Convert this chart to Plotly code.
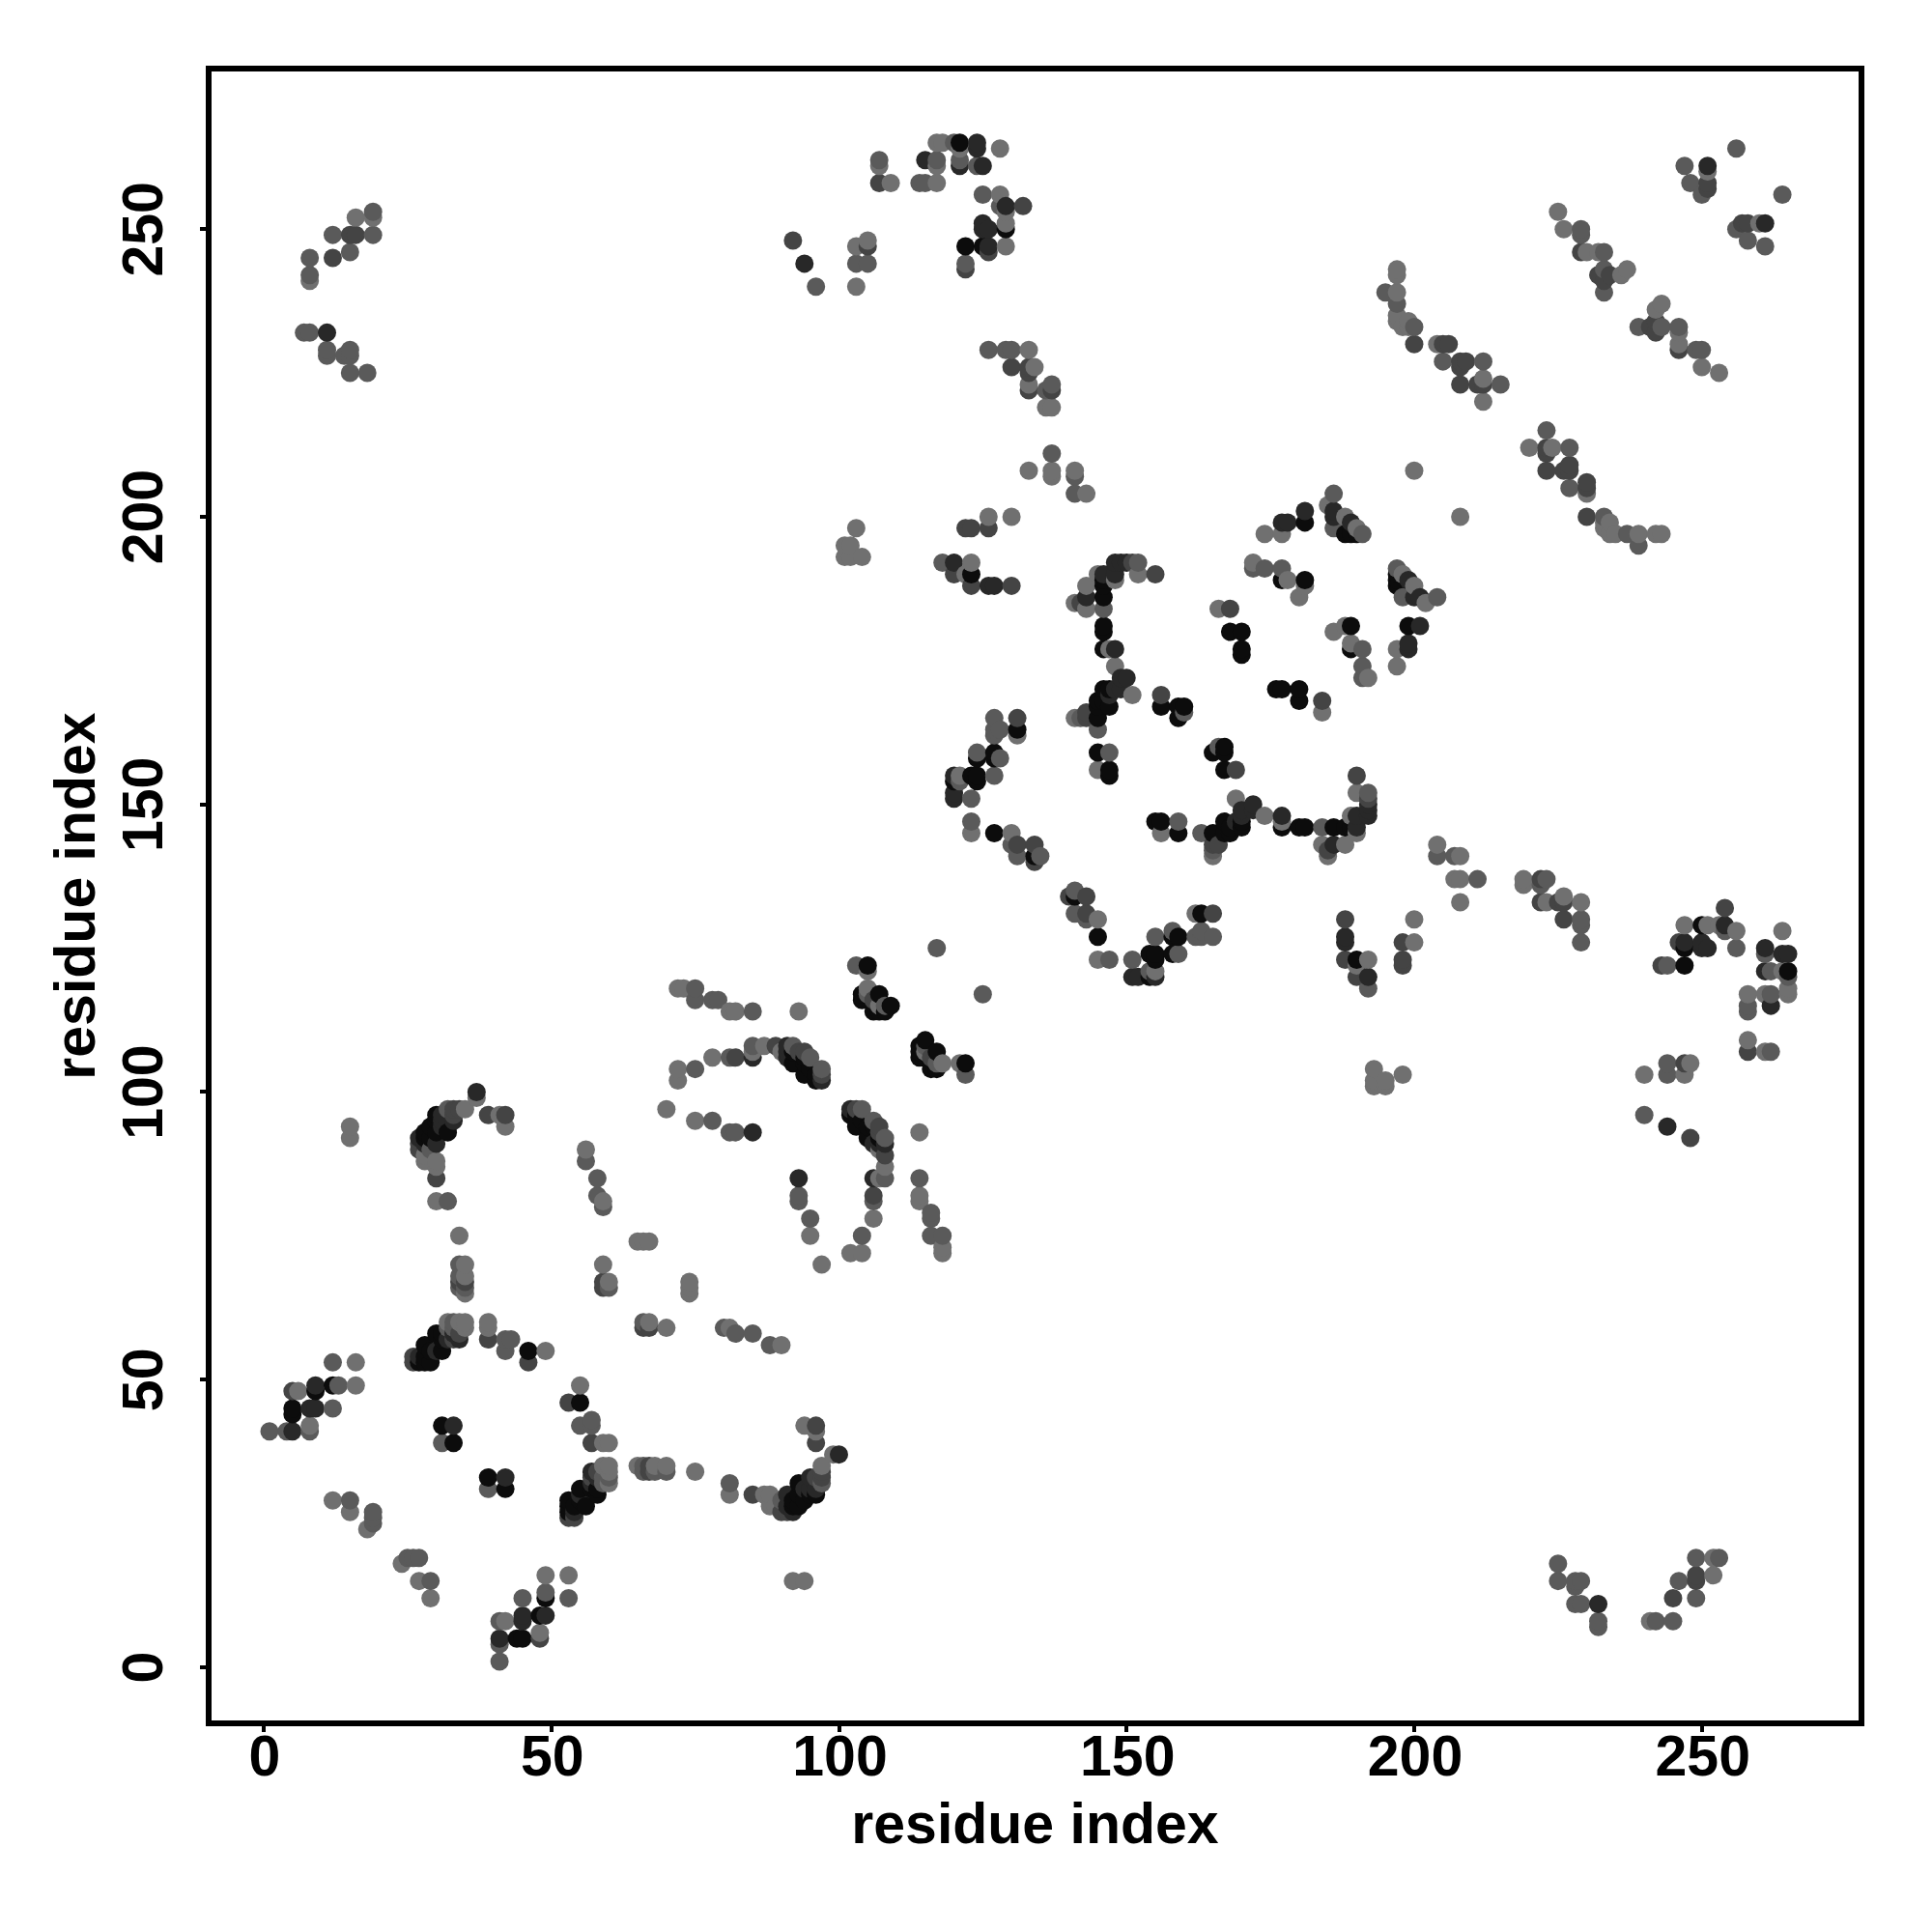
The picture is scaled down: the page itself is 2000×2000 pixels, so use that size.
import plotly.graph_objects as go

# Contact pairs (residue a, residue b), grouped by grey level.
# The contact map is symmetric, so each pair is listed once and drawn on both sides of the diagonal.
pairs_black = [
 (5,44),(5,45),(9,48),(12,49),(27,53),(28,53),(28,54),(28,56),(29,53),(29,55),(30,58),(31,55),(31,57),(31,58),
 (46,55),(31,42),(33,39),(39,33),(42,31),(92,28),(92,29),(93,28),(93,30),(93,32),(94,29),(95,30),(96,30),
 (92,105),(92,107),(94,103),(94,105),(95,104),(96,102),(96,103),(102,96),(103,94),(103,96),(105,92),(105,94),(106,94),(107,92),
 (104,116),(104,117),(105,122),(106,114),(107,114),(107,117),(108,114),(109,115),
 (120,154),(123,155),(124,154),(124,155),(124,158),(127,158),(127,159),(131,163),(127,145),(134,141),
 (145,159),(145,165),(145,167),(145,168),(146,168),(146,170),(147,155),(147,156),(147,167),(147,170),
 (146,177),(146,180),(146,181),(146,186),(146,188),(146,189),(156,167),(159,165),(159,167),(160,167),
 (168,180),(170,180),(170,177),(170,176),(177,189),(181,189),(181,199),(188,197),(189,197),(190,197),
 (123,190),(122,247),(129,250),(125,247),(121,265),
]
pairs_verydark = [
 (5,41),(8,45),(9,45),(9,49),(27,54),(30,55),(32,57),(33,58),(34,57),(33,42),(91,28),(91,30),(92,27),(94,31),(95,31),(95,33),(96,31),(100,37),
 (85,93),(85,106),(91,108),(91,107),(91,106),(97,102),(102,97),
 (120,151),(120,152),(120,155),(147,169),(148,170),(149,170),(149,172),(150,172),(148,177),(146,190),(148,192),(148,190),(150,192),(149,192),(143,186),
 (177,199),(178,199),(181,201),(186,201),(186,200),(189,199),
 (126,188),(127,188),(120,192),(94,244),(121,261),(124,264),(124,265),(125,261),(126,247),(125,251),(126,250),(129,254),(251,261),(11,232),(232,11),
 (115,262),(125,250),
]
pairs_dark = [
 (5,48),(26,53),(26,54),(33,57),(34,58),(39,57),(46,53),(42,33),(85,30),(90,27),(91,27),(96,33),(97,33),(97,34),(96,39),(96,42),
 (34,67),(35,67),(59,67),(59,66),(89,108),(93,107),(94,106),(103,97),(107,94),(108,89),(106,82),(106,85),
 (131,165),(131,143),(134,143),(134,140),(143,165),(143,166),(142,185),(155,190),(151,192),(156,169),(168,184),
 (106,116),(123,188),(130,188),(120,190),(122,198),(123,198),(126,198),
 (200,230),(205,230),(208,223),(208,226),(208,227),(209,227),(211,223),(212,223),(206,230),
 (232,242),(233,241),(234,242),(229,246),(92,248),(105,247),(107,258),
 (130,226),(133,226),(133,225),(133,222),(137,222),(251,258),(251,257),(12,245),(15,249),(245,12),(246,126),(122,243),
 (250,126),(254,132),(249,16),(249,15),
]
pairs_mid = [
 (1,41),(4,41),(8,41),(12,45),(12,53),(13,49),(42,57),(43,57),(42,55),(32,59),(33,59),(33,60),(32,81),(39,31),
 (34,70),(34,68),(34,66),(35,66),(60,66),(85,108),(81,106),(82,106),(75,104),(75,118),(75,116),(78,95),(85,114),(92,108),
 (58,85),(58,82),(59,80),(56,88),(93,82),(93,81),(95,78),(104,75),(106,81),(108,85),(95,106),(97,104),(104,97),(106,95),
 (114,85),(116,79),(116,78),(116,75),(118,75),(103,122),(108,115),(117,125),(105,117),(90,29),(97,32),(19,25),
 (19,27),(19,26),(25,19),(26,19),(27,19),(29,15),
 (121,154),(123,151),(123,147),(124,159),(127,155),(128,158),(127,162),(127,163),(128,163),(127,165),(130,143),(131,141),(135,141),
 (142,165),(145,163),(147,159),(146,184),(152,192),(160,166),(172,191),(174,191),(177,191),
 (186,204),(186,198),(191,197),(118,192),(195,239),(197,237),(200,233),(205,227),(212,227),(215,223),(229,250),(229,249),(233,246),(233,243),(233,239),
 (103,244),(105,244),(96,240),(114,258),(115,258),(120,265),(124,261),(121,262),(125,256),(128,254),(132,254),(107,262),
 (126,229),(129,229),(130,229),(136,222),(137,223),(137,211),(141,207),(141,204),
 (247,261),(248,258),(250,256),(256,264),(7,232),(8,232),(11,229),(11,228),(14,228),(15,229),(15,228),(15,225),(18,225),
 (16,249),(19,253),(19,249),(8,245),(15,246),(8,242),(232,8),(225,18),(225,15),(229,15),(249,12),(253,19),(245,8),
 (244,122),(256,125),(265,120),(262,121),(262,117),(262,107),(258,107),
]
pairs_light = [
 (6,48),(8,42),(16,49),(16,53),(32,60),(34,60),(35,59),(35,60),(39,60),(39,59),(49,55),(34,75),(35,70),(35,68),(35,65),(31,39),
 (59,70),(60,67),(65,74),(66,74),(67,74),(74,67),(74,66),(74,65),(65,35),(66,35),(68,35),(68,34),(70,35),(75,34),(67,35),(70,34),
 (81,32),(81,30),(87,30),(88,30),(88,28),(89,28),(94,42),(96,41),(97,35),(99,37),(92,15),(94,15),(15,92),(15,94),
 (12,29),(15,29),(15,27),(18,24),(24,18),(27,15),(29,12),(49,13),(49,16),(53,16),(53,12),(42,8),(48,6),
 (60,35),(60,34),(59,35),(60,32),(59,33),(59,32),(60,33),
 (95,75),(102,72),(104,72),(97,70),(106,78),(114,93),(114,82),(114,81),(118,73),(118,72),(56,90),(59,81),(72,118),(73,118),(78,116),(79,116),
 (81,114),(82,114),(93,114),(72,104),(72,102),(70,97),(75,95),(78,106),(81,93),(82,93),(85,107),(87,108),(90,107),(108,92),(108,91),(108,87),(107,85),
 (105,118),(105,121),(107,115),
 (121,155),(123,145),(130,145),(131,162),(141,165),(145,156),(141,185),(143,184),(143,188),(145,190),(148,189),(147,177),(148,174),(151,169),(152,190),
 (166,184),(172,192),(178,189),(180,186),(181,188),(174,197),(177,197),(185,202),(188,200),(190,198),(200,208),
 (101,193),(101,195),(102,193),(102,195),(103,198),(104,193),(122,190),(123,192),(126,200),(130,200),(193,104),(195,102),(195,101),(198,103),
 (197,234),(197,235),(197,239),(197,242),(197,243),(198,233),(199,233),(199,234),(204,230),(212,220),(212,224),
 (225,253),(226,250),(230,246),(232,246),(236,242),(237,243),(103,240),(103,247),(105,248),(107,261),(109,258),(117,258),(117,262),(117,261),(117,265),(118,265),(128,264),
 (128,256),(133,229),(133,223),(134,226),(136,219),(137,219),(133,208),(137,208),(137,207),(141,208),(143,204),
 (251,260),(16,252),(19,252),(8,241),(241,8),(242,8),(246,15),(249,19),(252,19),(252,16),(232,7),
 (247,129),(251,129),(253,129),(256,128),(264,128),(264,121),(265,118),(265,117),(258,117),(261,117),(258,114),(258,109),(261,107),
]
tick_values = [0, 50, 100, 150, 200, 250]
axis_label = "residue index"

shades = [(pairs_black, 12), (pairs_verydark, 40), (pairs_dark, 68), (pairs_mid, 90), (pairs_light, 112)]
cells = {}
for group, grey in shades:
    for a, b in group:
        if a != b:
            cells.setdefault((a, b), grey)
            cells.setdefault((b, a), grey)
ordered = sorted(cells)  # drawn in order of x, then y
xs = [c[0] for c in ordered]
ys = [c[1] for c in ordered]
colors = [f"rgb({cells[c]},{cells[c]},{cells[c]})" for c in ordered]

fig = go.Figure(go.Scatter(x=xs, y=ys, mode="markers",
                           marker=dict(size=19, color=colors, line=dict(width=0)),
                           hoverinfo="skip"))
axis = dict(showgrid=False, zeroline=False, showline=True, linecolor="black", linewidth=6, mirror=True,
            ticks="outside", ticklen=6, tickwidth=3.5, tickcolor="black",
            tickmode="array", tickvals=tick_values, ticktext=[str(v) for v in tick_values],
            tickfont=dict(family="Liberation Sans", size=59, color="black", weight="bold"))
title_font = dict(family="Liberation Sans", size=59, color="black", weight="bold")
fig.update_xaxes(range=[-9.07, 277.25], ticklabelstandoff=-26, ticklabelshift=1,
                 title=dict(text=axis_label, standoff=19, font=title_font), **axis)
fig.update_yaxes(range=[-9.24, 277.4], tickangle=-90, ticklabelstandoff=15, ticklabelshift=9,
                 title=dict(text=axis_label, standoff=0, font=title_font), **axis)
fig.update_layout(width=2000, height=2000, autosize=False, showlegend=False,
                  paper_bgcolor="white", plot_bgcolor="white",
                  margin=dict(l=211, r=84, t=66, b=227))
fig.write_html("out.html", config={"displayModeBar": False})
